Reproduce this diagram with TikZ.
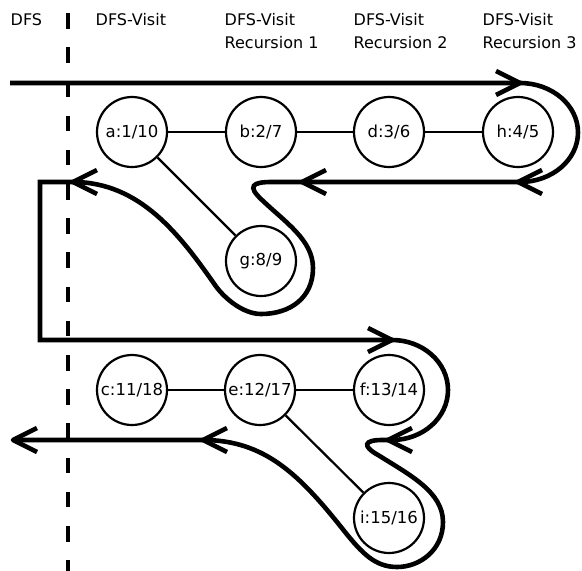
\documentclass[tikz,border=0pt]{standalone}
\usepackage{fontspec}
\setmainfont{DejaVu Sans}
\newcommand{\chevL}[1]{\draw[chev] (#1) ++(24,-12) -- (#1) -- ++(24,12);}
\newcommand{\chevR}[1]{\draw[chev] (#1) ++(-24,-12) -- (#1) -- ++(-24,12);}
\begin{document}
\begin{tikzpicture}[x=1pt,y=-1pt,
  vtx/.style={circle,draw,line width=2.2pt,minimum size=70pt,inner sep=0pt,
    font=\fontsize{16.5}{20}\selectfont},
  edge/.style={line width=2.2pt},
  hdr/.style={anchor=base west,inner sep=0pt,font=\fontsize{16}{20}\selectfont},
  trav/.style={line width=4.6pt,line join=miter},
  chev/.style={line width=4.6pt,line join=round,line cap=butt},
  dashline/.style={line width=3.5pt,dash pattern=on 15.5pt off 18.7pt}]
\useasboundingbox (0,0) rectangle (582,571);
% header
\node[hdr] (h0) at (10.5,25) {DFS};
\node[hdr] (h1) at (95.5,25) {DFS-Visit};
\node[hdr] (h2a) at (224.5,25) {DFS-Visit};
\node[hdr] (h2b) at (224.5,48) {Recursion 1};
\node[hdr] (h3a) at (353.5,25) {DFS-Visit};
\node[hdr] (h3b) at (353.5,48) {Recursion 2};
\node[hdr] (h4a) at (482.5,25) {DFS-Visit};
\node[hdr] (h4b) at (482.5,48) {Recursion 3};
% dashed separator
\coordinate (dtop) at (68,13);
\coordinate (dbot) at (68,575);
\draw[dashline] (dtop) -- (dbot);
% vertices
\node[vtx] (a) at (132,132) {a:1/10};
\node[vtx] (b) at (261,132) {b:2/7};
\node[vtx] (d) at (389,132) {d:3/6};
\node[vtx] (h) at (518,132) {h:4/5};
\node[vtx] (g) at (261,261) {g:8/9};
\node[vtx] (c) at (132,390) {c:11/18};
\node[vtx] (e) at (260,390) {e:12/17};
\node[vtx] (f) at (389,390) {f:13/14};
\node[vtx] (i) at (389,518) {i:15/16};
\draw[edge] (a) -- (b);
\draw[edge] (b) -- (d);
\draw[edge] (d) -- (h);
\draw[edge] (a) -- (g);
\draw[edge] (c) -- (e);
\draw[edge] (e) -- (f);
\draw[edge] (e) -- (i);
% traversal
\draw[trav] (10,83) -- (520,83)
  .. controls (552,83) and (578,105.2) .. (578,132.5)
  .. controls (578,159.8) and (552,182) .. (520,182)
  -- (272,182)
  .. controls (252,182) and (247,186) .. (262,200)
  .. controls (285,222) and (313,240) .. (313,268)
  .. controls (313,298) and (290,314) .. (261,314)
  .. controls (243,314) and (224,298) .. (215,285)
  .. controls (180,235) and (140,182) .. (73,182)
  -- (40,182) -- (40,340) -- (392,340)
  .. controls (423,340) and (448,362.4) .. (448,390)
  .. controls (448,417.6) and (423,440) .. (392,440)
  -- (382,440)
  .. controls (364,440) and (362,446) .. (378,455)
  .. controls (410,475) and (443,492) .. (443,522)
  .. controls (443,550) and (420,567) .. (397,567)
  .. controls (375,567) and (362,553) .. (345,532)
  .. controls (300,475) and (265,440) .. (203,440)
  -- (13,440);
\chevR{520,83}
\chevL{518,182}
\chevL{302,182}
\chevL{73,182}
\chevR{392,340}
\chevL{388,440}
\chevL{203,440}
\chevL{13,440}
\end{tikzpicture}
\end{document}
